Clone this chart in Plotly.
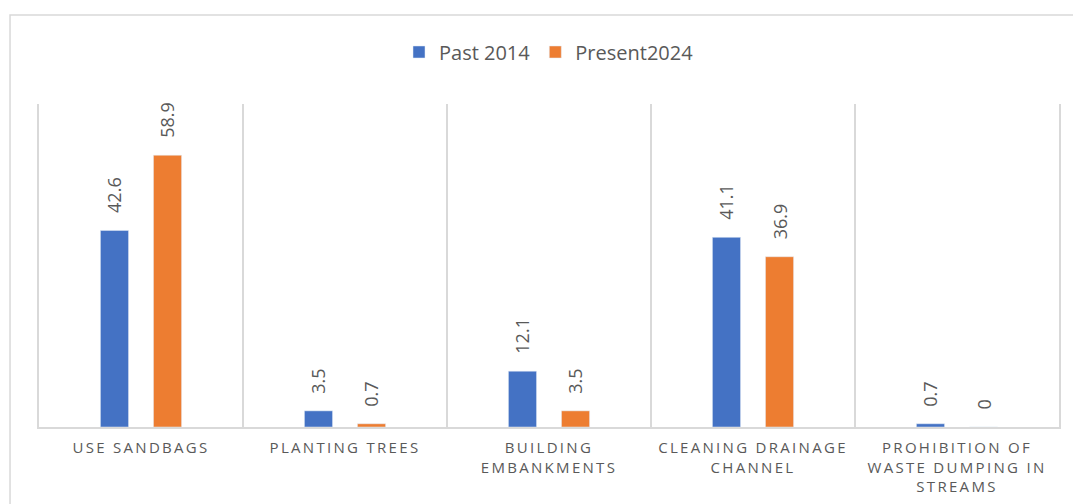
import plotly.graph_objects as go

categories = ["USE SANDBAGS", "PLANTING TREES", "BUILDING<br>EMBANKMENTS",
              "CLEANING DRAINAGE<br>CHANNEL", "PROHIBITION OF<br>WASTE DUMPING IN<br>STREAMS"]
past_2014 = [42.6, 3.5, 12.1, 41.1, 0.7]
present_2024 = [58.9, 0.7, 3.5, 36.9, 0]

blue = "#4472C4"
orange = "#ED7D31"
grey_txt = "#595959"
grid = "#D9D9D9"

fig = go.Figure()
fig.add_trace(go.Bar(x=categories, y=past_2014, name="Past 2014", marker_color=blue))
fig.add_trace(go.Bar(x=categories, y=present_2024, name="Present2024", marker_color=orange))

# rotated value labels above each bar
for cat, v in zip(categories, past_2014):
    fig.add_annotation(x=cat, y=v, text=f"{v:g}", textangle=-90, showarrow=False,
                       xshift=-26.5, yanchor="bottom", yshift=15,
                       font=dict(size=18, color=grey_txt))
for cat, v in zip(categories, present_2024):
    fig.add_annotation(x=cat, y=v, text=f"{v:g}", textangle=-90, showarrow=False,
                       xshift=26.5, yanchor="bottom", yshift=15,
                       font=dict(size=18, color=grey_txt))

# outer chart frame
fig.add_shape(type="rect", xref="paper", yref="paper",
              x0=-0.0284, x1=1.03, y0=-0.3, y1=1.2755,
              line=dict(color=grid, width=1.5), layer="below")

fig.update_layout(
    width=1073, height=504,
    margin=dict(l=39, r=14, t=104, b=77),
    paper_bgcolor="white", plot_bgcolor="white",
    font=dict(family="Open Sans", color=grey_txt),
    barmode="group", bargap=0.48, bargroupgap=0.47,
    showlegend=True,
    legend=dict(orientation="h", x=0.5, xanchor="center", y=1.161, yanchor="middle",
                font=dict(size=20, color=grey_txt), itemwidth=30),
)
fig.update_xaxes(type="category", tickson="boundaries", showgrid=True, gridcolor=grid,
                 gridwidth=1.5, showline=True, linecolor=grid, linewidth=2, automargin=False,
                 ticks="", ticklabelstandoff=6, tickfont=dict(size=15, color=grey_txt))
fig.update_yaxes(range=[0, 70], showgrid=False, showticklabels=False, zeroline=False,
                 automargin=False, showline=True, mirror=True, linecolor=grid, linewidth=1.5)

css = ("document.body.style.margin='0';"
       "var s=document.createElement('style');"
       "s.innerHTML='.xtick text{letter-spacing:2.3px}';"
       "document.head.appendChild(s);")
fig.write_html("out.html", post_script=css, config={"displayModeBar": False})
